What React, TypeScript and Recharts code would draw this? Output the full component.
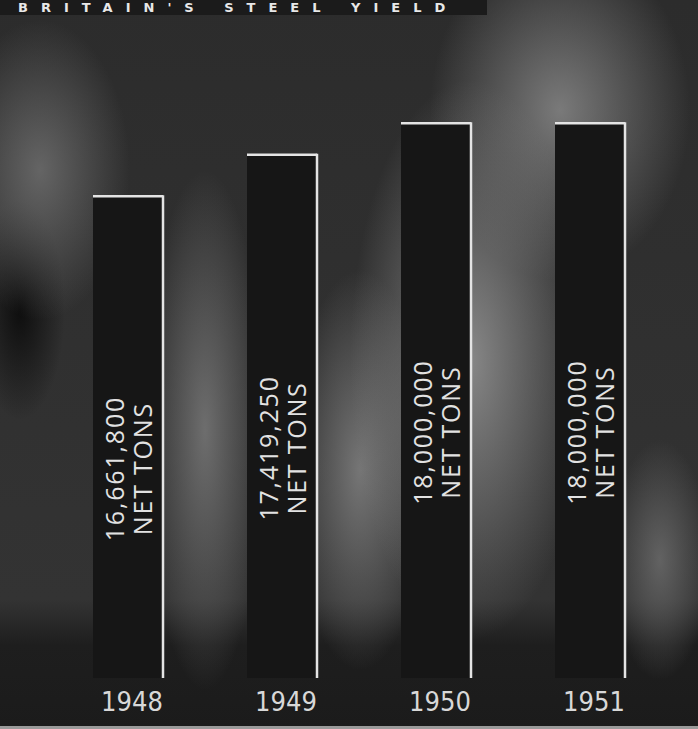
import React from 'react';
import { BarChart, Bar, XAxis, YAxis, LabelList } from 'recharts';

const years = ['1948', '1949', '1950', '1951'];
const tons = [16661800, 17419250, 18000000, 18000000];
const tonLabels = ['16,661,800', '17,419,250', '18,000,000', '18,000,000'];
const unitLabel = 'NET TONS';
const title = "BRITAIN'S STEEL YIELD";

const data = years.map((year, i) => ({ year, tons: tons[i], label: tonLabels[i] }));

const W = 698;
const H = 729;

// photo-like backdrop behind the bars
const background = [
  'radial-gradient(ellipse 120px 280px at 470px 360px, rgba(140,140,140,0.95), rgba(140,140,140,0) 100%)',
  'radial-gradient(ellipse 130px 170px at 560px 110px, rgba(130,130,130,0.9), rgba(130,130,130,0) 100%)',
  'radial-gradient(ellipse 70px 200px at 360px 470px, rgba(125,125,125,0.9), rgba(125,125,125,0) 100%)',
  'radial-gradient(ellipse 60px 260px at 205px 430px, rgba(120,120,120,0.85), rgba(120,120,120,0) 100%)',
  'radial-gradient(ellipse 90px 150px at 40px 170px, rgba(110,110,110,0.85), rgba(110,110,110,0) 100%)',
  'radial-gradient(ellipse 50px 120px at 660px 560px, rgba(110,110,110,0.8), rgba(110,110,110,0) 100%)',
  'radial-gradient(ellipse 45px 110px at 20px 310px, rgba(12,12,12,0.95), rgba(12,12,12,0) 100%)',
  'linear-gradient(to bottom, #2c2c2c 0px, #333 600px, #1e1e1e 645px, #1b1b1b 729px)',
].join(', ');

const BarShape = (props: any) => {
  const { x, y, width, height } = props;
  return (
    <g>
      <rect x={x} y={y} width={width} height={height} fill="#161616" />
      <line x1={x} y1={y + 1} x2={x + width} y2={y + 1} stroke="#e4e4e4" strokeWidth={2.5} />
      <line x1={x + width} y1={y} x2={x + width} y2={y + height} stroke="#e4e4e4" strokeWidth={2.5} />
    </g>
  );
};

const BarLabel = (props: any) => {
  const { x, y, width, height, value } = props;
  const cx = x + width / 2;
  const cy = y + height / 2 + 32;
  return (
    <g transform={`translate(${cx},${cy}) rotate(-90)`}>
      <text x={0} y={-14} textAnchor="middle" dominantBaseline="central" fill="#e2e2e2"
        fontSize={25} letterSpacing={1.8} fontFamily="'Open Sans', sans-serif">
        {value}
      </text>
      <text x={0} y={14} textAnchor="middle" dominantBaseline="central" fill="#e2e2e2"
        fontSize={25} letterSpacing={1.8} fontFamily="'Open Sans', sans-serif">
        {unitLabel}
      </text>
    </g>
  );
};

const YearTick = (props: any) => {
  const { x, payload } = props;
  return (
    <text x={x + 4} y={701} textAnchor="middle" dominantBaseline="central" fill="#d8d8d8"
      fontSize={27} fontFamily="'Liberation Sans Narrow', 'DejaVu Sans Condensed', 'Open Sans', sans-serif">
      {payload.value}
    </text>
  );
};

export default function App() {
  return (
    <div style={{ position: 'fixed', left: 0, top: 0, width: W, height: H, background, overflow: 'hidden' }}>
      <div style={{ position: 'absolute', left: 0, top: 0, width: 487, height: 15, background: '#1b1b1b' }}>
        <div style={{ position: 'absolute', left: 18, top: 0, lineHeight: '15px', color: '#e8e8e8',
          fontFamily: "'DejaVu Sans', sans-serif", fontWeight: 'bold', fontSize: 13, letterSpacing: 13,
          whiteSpace: 'nowrap' }}>
          {title}
        </div>
      </div>
      <BarChart width={W} height={H} data={data} margin={{ top: 0, right: 31, bottom: 0, left: 51 }} barCategoryGap={0}>
        <XAxis dataKey="year" axisLine={false} tickLine={false} height={51} tick={<YearTick />} interval={0} />
        <YAxis hide domain={[7810000, 20240000]} allowDataOverflow />
        <Bar dataKey="tons" barSize={70} shape={<BarShape />} isAnimationActive={false}>
          <LabelList dataKey="label" content={<BarLabel />} />
        </Bar>
      </BarChart>
      <div style={{ position: 'absolute', left: 0, top: 726, width: W, height: 3, background: '#9a9a9a' }} />
    </div>
  );
}
